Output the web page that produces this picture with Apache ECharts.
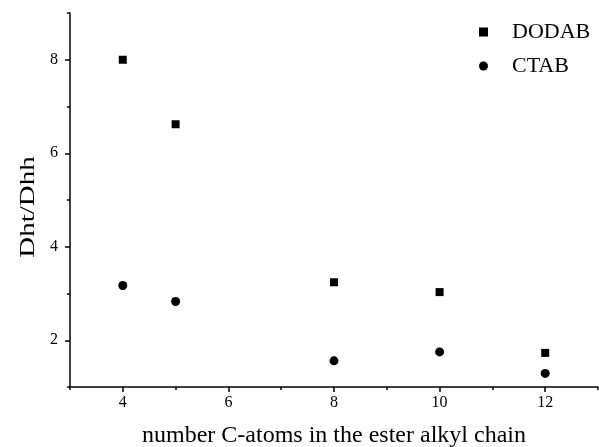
<!DOCTYPE html>
<html>
<head>
<meta charset="utf-8">
<script src="https://cdn.jsdelivr.net/npm/echarts@6/dist/echarts.min.js"></script>
<style>html,body{margin:0;padding:0;background:#fff}#c{width:599px;height:447px}</style>
</head>
<body>
<div id="c"></div>
<script>
const carbonAtoms = [4, 5, 8, 10, 12];
const dodab = [8.0, 6.62, 3.24, 3.03, 1.73];
const ctab = [3.17, 2.83, 1.56, 1.75, 1.29];
const xMajorTicks = [4, 6, 8, 10, 12];
const xMinorTicks = [3, 5, 7, 9, 11, 13];
const yMajorTicks = [2, 4, 6, 8];
const yMinorTicks = [1, 3, 5, 7, 9];
const xTitle = 'number C-atoms in the ester alkyl chain';
const yTitle = 'Dht/Dhh';

const font = '"Liberation Serif", "DejaVu Serif", serif';
const chart = echarts.init(document.getElementById('c'));
const axisLineStyle = { color: '#000', width: 1.5 };
chart.setOption({
  animation: false,
  backgroundColor: '#fff',
  grid: { left: 70, right: 1, top: 13, bottom: 60, containLabel: false, outerBoundsMode: 'none' },
  legend: {
    orient: 'vertical',
    left: 474, top: 16, padding: 5,
    itemWidth: 9, itemHeight: 9, itemGap: 12,
    textStyle: { fontFamily: font, fontSize: 22, color: '#000', padding: [0, 0, 0, 19] },
    data: [{ name: 'DODAB', icon: 'rect' }, { name: 'CTAB', icon: 'circle' }]
  },
  graphic: [{
    type: 'text', x: 29, y: 207, rotation: Math.PI / 2, scaleX: 1.45,
    style: { text: yTitle, fontFamily: font, fontSize: 20, fill: '#000', align: 'center', verticalAlign: 'middle' }
  }],
  xAxis: [{
    type: 'value', min: 3, max: 13,
    name: xTitle, nameLocation: 'middle', nameGap: 37,
    nameTextStyle: { fontFamily: font, fontSize: 24, color: '#000' },
    axisLine: { show: true, lineStyle: axisLineStyle },
    axisTick: { show: true, length: 5, lineStyle: axisLineStyle, customValues: xMajorTicks },
    axisLabel: { fontFamily: font, fontSize: 16, color: '#000', margin: 8, customValues: xMajorTicks },
    splitLine: { show: false }
  }, {
    type: 'value', min: 3, max: 13, position: 'bottom',
    axisLine: { show: false },
    axisTick: { show: true, length: 3, lineStyle: axisLineStyle, customValues: xMinorTicks },
    axisLabel: { show: false },
    splitLine: { show: false }
  }],
  yAxis: [{
    type: 'value', min: 1, max: 9,
    axisLine: { show: true, lineStyle: axisLineStyle },
    axisTick: { show: true, length: 5, lineStyle: axisLineStyle, customValues: yMajorTicks },
    axisLabel: { fontFamily: font, fontSize: 16, color: '#000', margin: 12, customValues: yMajorTicks },
    splitLine: { show: false }
  }, {
    type: 'value', min: 1, max: 9, position: 'left',
    axisLine: { show: false },
    axisTick: { show: true, length: 3, lineStyle: axisLineStyle, customValues: yMinorTicks },
    axisLabel: { show: false },
    splitLine: { show: false }
  }],
  series: [{
    name: 'DODAB', type: 'scatter', symbol: 'rect', symbolSize: 8,
    itemStyle: { color: '#000', opacity: 1 },
    data: carbonAtoms.map((x, i) => [x, dodab[i]])
  }, {
    name: 'CTAB', type: 'scatter', symbol: 'circle', symbolSize: 9,
    itemStyle: { color: '#000', opacity: 1 },
    data: carbonAtoms.map((x, i) => [x, ctab[i]])
  }]
});
</script>
</body>
</html>
